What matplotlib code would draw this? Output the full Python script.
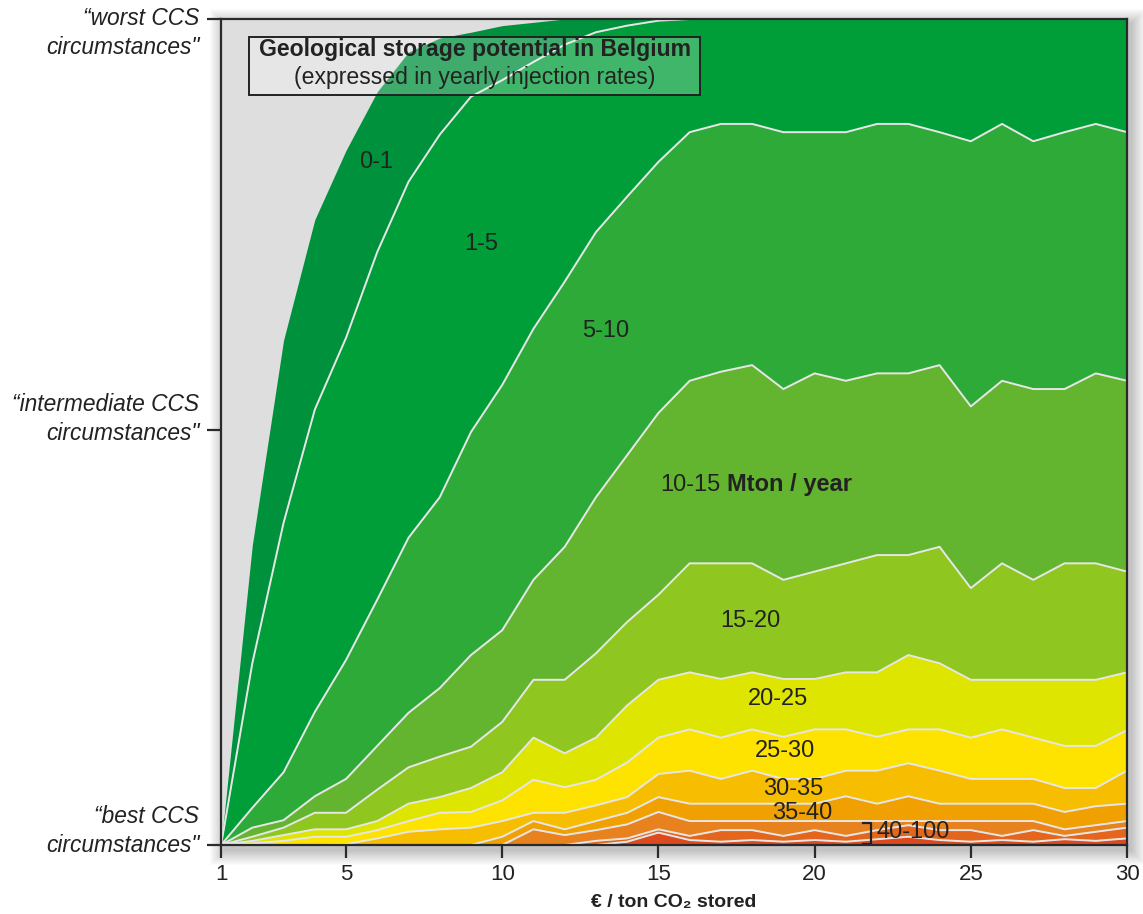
import numpy as np
import matplotlib.pyplot as plt
from matplotlib.patches import Rectangle

plt.rcParams['font.family'] = ['Liberation Sans', 'DejaVu Sans']

# kosten in euro per ton CO2 (x-as)
kosten = np.arange(1, 31)

# grenzen tussen de klassen (0 = beste, 50 = intermediair, 100 = slechtste omstandigheden)
grens_grijs = [0, 36.3, 61.1, 75.7, 84.1, 91.2, 96.0, 97.7, 98.4, 99.2, 99.6] + [100] * 19
grens_0_1 = [0, 22.0, 39.0, 52.7, 61.4, 71.8, 80.3, 86.0, 90.6, 92.6, 94.8, 96.9, 98.4, 99.2, 99.8] + [100] * 15
grens_1_5 = [0, 4.5, 8.8, 16.1, 22.4, 29.7, 37.2, 42.1, 50.0, 55.7, 62.5, 68.2, 74.2, 78.5, 82.7,
             86.3, 87.3, 87.3, 86.3, 86.3, 86.3, 87.3, 87.3, 86.3, 85.2, 87.3, 85.2, 86.3, 87.3, 86.3]
grens_5_10 = [0, 2.1, 3.0, 5.9, 8.0, 12.0, 16.0, 19.0, 23.0, 26.0, 32.1, 36.1, 42.1, 47.2, 52.3,
              56.2, 57.3, 58.1, 55.2, 57.1, 56.2, 57.1, 57.1, 58.1, 53.1, 56.2, 55.2, 55.2, 57.1, 56.2]
grens_10_15 = [0, 1.0, 2.1, 3.9, 3.9, 6.7, 9.4, 10.7, 11.9, 14.9, 20.0, 20.0, 23.2, 27.0, 30.3,
               34.1, 34.1, 34.1, 32.1, 33.1, 34.1, 35.1, 35.1, 36.1, 31.1, 34.1, 32.1, 34.1, 34.1, 33.1]
grens_15_20 = [0, 0.5, 1.2, 1.9, 1.9, 2.9, 5.0, 5.8, 6.9, 8.8, 13.0, 11.1, 13.0, 16.9, 20.0,
               20.9, 20.1, 20.9, 20.1, 20.1, 20.9, 20.9, 23.0, 22.0, 20.0, 20.0, 20.0, 20.0, 20.0, 20.9]
grens_20_25 = [0, 0.2, 0.5, 1.0, 1.0, 1.8, 2.9, 3.9, 4.0, 5.4, 7.9, 7.0, 7.9, 10.0, 13.0,
               14.0, 13.0, 14.0, 13.1, 14.0, 14.0, 13.1, 14.0, 14.0, 13.0, 14.0, 13.0, 12.0, 12.0, 13.9]
grens_25_30 = [0, 0, 0, 0, 0.1, 0.8, 1.6, 1.9, 2.1, 2.9, 3.9, 3.9, 4.8, 5.8, 8.6,
               9.0, 8.0, 9.0, 8.0, 8.0, 9.0, 9.0, 9.9, 9.0, 8.0, 8.0, 8.0, 6.9, 6.9, 9.0]
grens_30_35 = [0] * 9 + [1.0, 2.9, 1.9, 2.9, 3.9, 5.8,
                         5.0, 5.0, 5.0, 5.0, 5.0, 5.9, 5.0, 5.9, 5.0, 5.0, 5.0, 5.0, 4.0, 4.7, 5.0]
grens_35_40 = [0] * 10 + [1.9, 1.2, 1.8, 2.5, 4.0,
                          2.9, 2.9, 2.9, 2.9, 2.9, 2.9, 2.9, 2.9, 2.9, 2.9, 2.9, 2.9, 1.9, 2.4, 2.9]
grens_40_a = [0] * 12 + [0.5, 0.8, 1.9,
                         1.1, 1.8, 1.8, 1.1, 1.8, 1.1, 1.8, 2.4, 1.8, 1.8, 1.1, 1.8, 1.1, 1.6, 2.1]
grens_40_b = [0] * 13 + [0.4, 1.5,
                         0.6, 0.4, 0.6, 0.4, 0.6, 0.4, 0.7, 1.0, 0.6, 0.4, 0.6, 0.4, 0.7, 0.5, 0.8]
bodem = [0] * 30

grenzen = [grens_grijs, grens_0_1, grens_1_5, grens_5_10, grens_10_15, grens_15_20,
           grens_20_25, grens_25_30, grens_30_35, grens_35_40, grens_40_a, grens_40_b, bodem]
kleuren = ['#00913d', '#009e38', '#2eaa38', '#63b530', '#8fc620', '#dde500',
           '#ffe300', '#f7bd00', '#f0a000', '#e8821e', '#e3661c', '#dd4a1f']

klassen = ['0-1', '1-5', '5-10', '15-20', '20-25', '25-30', '30-35', '35-40']
klas_x = [5.96, 9.32, 13.32, 17.93, 18.83, 19.05, 19.31, 19.6]
klas_y = [82.7, 72.8, 62.2, 27.1, 17.7, 11.4, 6.8, 3.9]

fig = plt.figure(figsize=(11.43, 9.14), dpi=100)
ax = fig.add_axes([0.1934, 0.0755, 0.7926, 0.9037])

# zachte schaduw rond de grafiek
for i in range(1, 16):
    sx = (221 + 4 - i) / 1143
    sy = (914 - 845 - 5 - i) / 914
    sw = (906 + 2 * i) / 1143
    sh = (826 + 2 * i) / 914
    fig.patches.append(Rectangle((sx, sy), sw, sh, transform=fig.transFigure,
                                 color='black', alpha=0.016, zorder=-1, lw=0))

ax.set_facecolor('#dedede')
for i, kleur in enumerate(kleuren):
    ax.fill_between(kosten, grenzen[i + 1], grenzen[i], color=kleur, lw=0, zorder=1)
for g in grenzen[1:-1]:
    ax.plot(kosten, g, color='#e6e6e6', lw=1.4, zorder=2)

ax.set_xlim(1, 30)
ax.set_ylim(0, 100)
for s in ax.spines.values():
    s.set_color('#2a2a2a')
    s.set_linewidth(1.6)
    s.set_zorder(5)

ax.set_xticks([1, 5, 10, 15, 20, 25, 30])
ax.tick_params(axis='x', direction='out', length=9, width=1.6, color='#2a2a2a',
               labelsize=16, pad=5, labelcolor='#222222')
ax.set_yticks([0, 50.2, 100])
ax.set_yticklabels([])
ax.tick_params(axis='y', direction='out', length=10, width=1.6, color='#2a2a2a')
ax.set_xlabel('€ / ton CO₂ stored', fontsize=14, fontweight='bold', color='#222222', labelpad=6)

ylabels = ['\u201cbest CCS\ncircumstances"', '\u201cintermediate CCS\ncircumstances"',
           '\u201cworst CCS\ncircumstances"']
for tekst, yy in zip(ylabels, [0.017, 0.516, 0.983]):
    ax.text(-0.024, yy, tekst, transform=ax.transAxes, ha='right', va='center',
            fontsize=16.4, style='italic', color='#222222', linespacing=1.35)

for tekst, xx, yy in zip(klassen, klas_x, klas_y):
    ax.text(xx, yy, tekst, ha='center', va='center', fontsize=17, color='#222222', zorder=4)
t1015 = ax.text(15.05, 43.6, '10-15', ha='left', va='center', fontsize=17,
                color='#222222', zorder=4)
ax.annotate('Mton / year', xy=(1, 0.5), xycoords=t1015, xytext=(5, 0),
            textcoords='offset points', ha='left', va='center', fontsize=17,
            fontweight='bold', color='#222222', zorder=4)
ax.text(21.97, 1.6, '40-100', ha='left', va='center', fontsize=17, color='#222222', zorder=4)
ax.plot([21.55, 21.82, 21.82, 21.55], [2.66, 2.66, 0.15, 0.15], color='#222222', lw=1.6,
        zorder=4, clip_on=False)

# titelkader
ax.add_patch(Rectangle((0.0309, 0.908), 0.4978, 0.0702, transform=ax.transAxes,
                       facecolor='white', alpha=0.25, lw=0, zorder=3))
ax.add_patch(Rectangle((0.0309, 0.908), 0.4978, 0.0702, transform=ax.transAxes,
                       facecolor='none', edgecolor='#222222', lw=1.4, zorder=3))
ax.text(0.2798, 0.9625, 'Geological storage potential in Belgium', transform=ax.transAxes,
        ha='center', va='center', fontsize=16.6, fontweight='bold', color='#222222', zorder=4)
ax.text(0.2798, 0.9286, '(expressed in yearly injection rates)', transform=ax.transAxes,
        ha='center', va='center', fontsize=16.6, color='#222222', zorder=4)

fig.savefig('out.png', dpi=100)
